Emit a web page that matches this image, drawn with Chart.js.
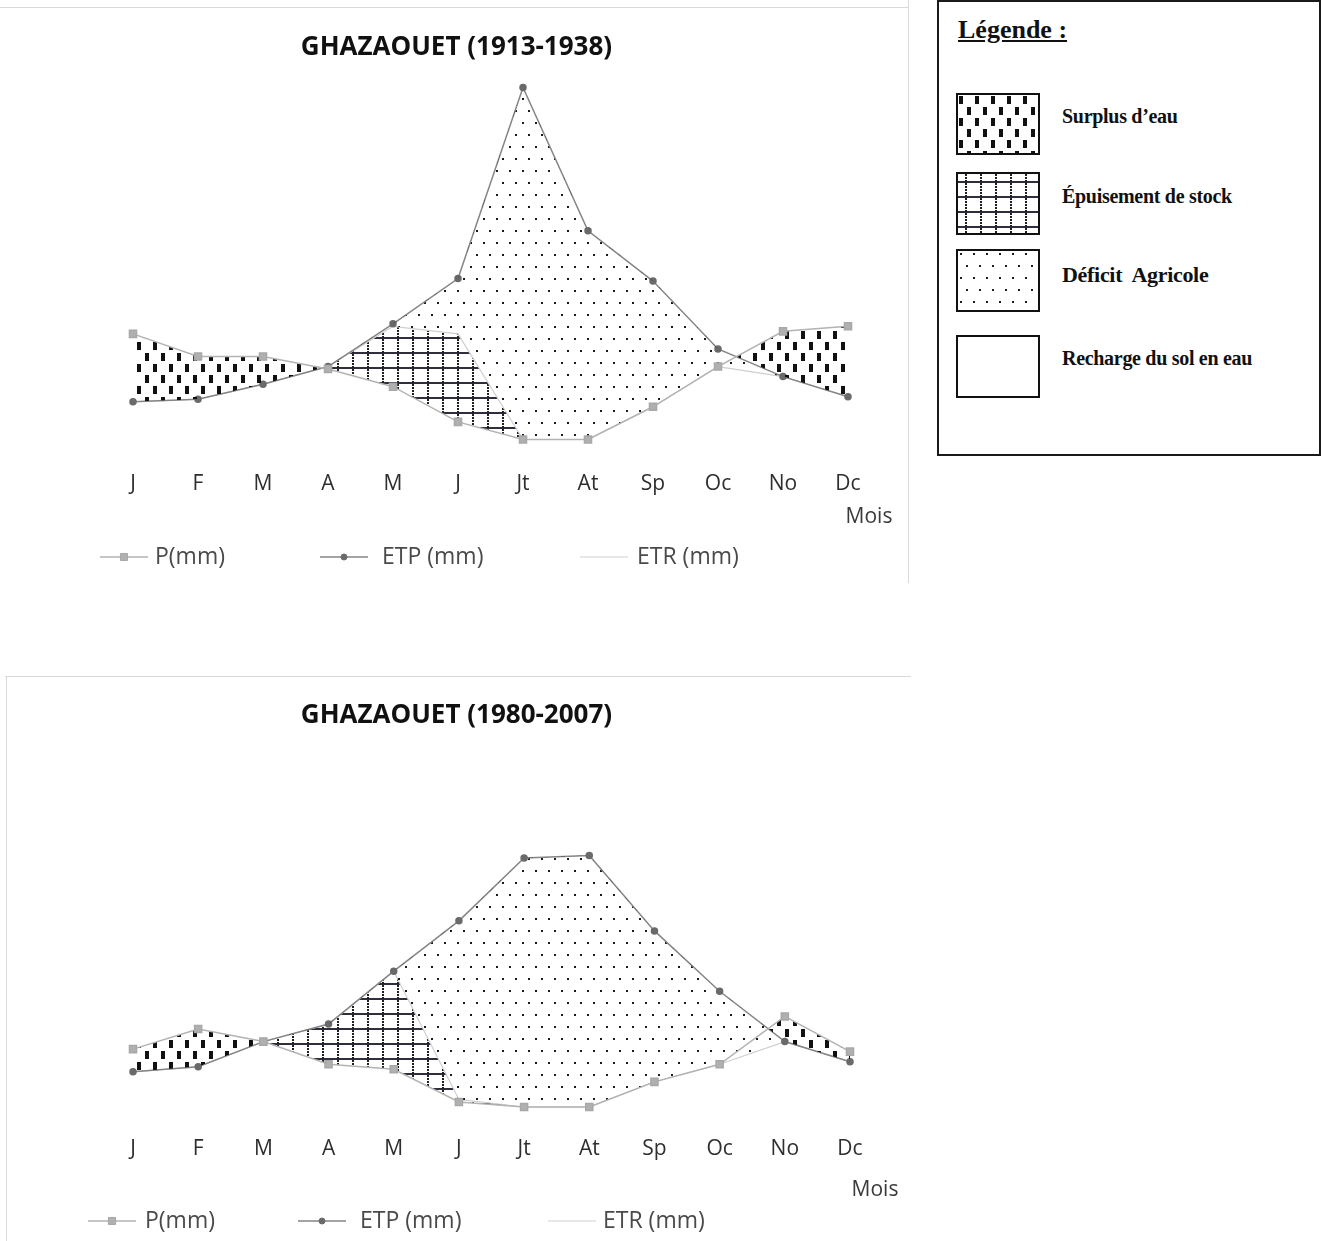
<!DOCTYPE html>
<html>
<head>
<meta charset="utf-8">
<script src="https://cdn.jsdelivr.net/npm/chart.js@4.4.1/dist/chart.umd.min.js"></script>
<style>
  body { margin: 0; background: #fff; width: 1321px; height: 1241px; position: relative; overflow: hidden; }
  canvas.chart { position: absolute; left: 0; }
  #c1 { top: 0; }
  #c2 { top: 676px; }
  .rule { position: absolute; background: #d9d9d9; }
  #legendBox { position: absolute; left: 937px; top: 0; width: 384px; height: 456px; box-sizing: border-box;
    border: 2px solid #1a1a1a; font-family: "Liberation Serif", "Times New Roman", serif; color: #111; }
  #legendBox .head { position: absolute; left: 19px; top: 12px; font-size: 26px; font-weight: bold; text-decoration: underline; line-height: 32px; }
  #legendBox canvas { position: absolute; left: 17px; border: 2px solid #111; }
  #legendBox .txt { position: absolute; left: 123px; font-size: 20px; font-weight: bold; line-height: 26px; letter-spacing: -0.3px; }
</style>
</head>
<body>
<div class="rule" style="left:0; top:7px; width:908px; height:1px;"></div>
<div class="rule" style="left:908px; top:0; width:1px; height:583px;"></div>
<div class="rule" style="left:5px; top:676px; width:906px; height:1px;"></div>
<div class="rule" style="left:6px; top:676px; width:1px; height:565px;"></div>

<canvas id="c1" class="chart" width="910" height="585"></canvas>
<canvas id="c2" class="chart" width="910" height="565"></canvas>

<div id="legendBox">
  <div class="head">Légende :</div>
  <canvas id="sw1" width="80" height="58" style="top:91px"></canvas>
  <div class="txt" style="top:101px">Surplus d’eau</div>
  <canvas id="sw2" width="80" height="59" style="top:170px"></canvas>
  <div class="txt" style="top:181px">Épuisement de stock</div>
  <canvas id="sw3" width="80" height="59" style="top:247px"></canvas>
  <div class="txt" style="top:260px; font-size:22px">Déficit&nbsp; Agricole</div>
  <canvas id="sw4" width="80" height="59" style="top:333px"></canvas>
  <div class="txt" style="top:343px">Recharge du sol en eau</div>
</div>

<script>
const months = ['J', 'F', 'M', 'A', 'M', 'J', 'Jt', 'At', 'Sp', 'Oc', 'No', 'Dc'];

// Ghazaouet 1913-1938 (mm)
const p1 = [43, 34, 34, 29, 22, 8, 1, 1, 14, 30, 44, 46];
const etp1 = [16, 17, 23, 30, 47, 65, 141, 84, 64, 37, 26, 18];
const etr1 = [16, 17, 23, 30, 46, 43, 1, 1, 14, 30, 26, 18];

// Ghazaouet 1980-2007 (mm)
const p2 = [23, 31, 26, 17, 15, 2, 0, 0, 10, 17, 36, 22];
const etp2 = [14, 16, 26, 33, 54, 74, 99, 100, 70, 46, 26, 18];
const etr2 = [14, 16, 26, 33, 54, 3, 0, 0, 10, 17, 26, 18];

function makePattern(w, h, draw) {
    const c = document.createElement('canvas');
    c.width = w;
    c.height = h;
    const g = c.getContext('2d');
    draw(g);
    return g.createPattern(c, 'repeat');
}

// hatch fills, same as the legend box
const surplusFill = makePattern(16, 22, g => {
    g.fillStyle = '#111';
    g.fillRect(1, 1, 4, 8);
    g.fillRect(9, 12, 4, 8);
});
const stockFill = makePattern(15, 15, g => {
    g.fillStyle = '#2e2e3c';
    g.fillRect(0, 7, 15, 2);
    g.fillStyle = '#1e1e1e';
    for (let y = 0; y < 15; y += 3) g.fillRect(7, y, 2, 2);
});
const deficitFill = makePattern(13, 24, g => {
    g.fillStyle = '#1a1a1a';
    g.fillRect(2, 2, 2, 2);
    g.fillRect(8, 14, 2, 2);
});

[['sw1', surplusFill], ['sw2', stockFill], ['sw3', deficitFill], ['sw4', null]].forEach(([id, fill]) => {
    const c = document.getElementById(id);
    const g = c.getContext('2d');
    g.fillStyle = '#fff';
    g.fillRect(0, 0, c.width, c.height);
    if (fill) {
        g.fillStyle = fill;
        g.fillRect(0, 0, c.width, c.height);
    }
});

// legend line + marker like the spreadsheet legend, plus the "Mois" note
const lineLegend = {
    id: 'lineLegend',
    afterDraw(chart, args, opts) {
        const ctx = chart.ctx;
        ctx.save();
        ctx.font = '23px "Open Sans"';
        ctx.textBaseline = 'middle';
        chart.data.datasets.forEach((ds, i) => {
            const x = opts.x[i], y = opts.y;
            ctx.strokeStyle = ds.borderColor;
            ctx.lineWidth = ds.borderWidth;
            ctx.beginPath();
            ctx.moveTo(x, y);
            ctx.lineTo(x + 48, y);
            ctx.stroke();
            if (ds.pointRadius > 0) {
                ctx.fillStyle = ds.pointBackgroundColor;
                ctx.strokeStyle = ds.pointBorderColor;
                ctx.lineWidth = 1;
                Chart.helpers.drawPoint(ctx, { pointStyle: ds.pointStyle, radius: ds.pointRadius, borderWidth: 1, rotation: 0 }, x + 24, y);
            }
            ctx.fillStyle = '#4a4a4a';
            ctx.textAlign = 'left';
            ctx.fillText(ds.label, x + opts.textDx[i], y);
        });
        ctx.fillStyle = '#3a3a3a';
        ctx.textAlign = 'center';
        ctx.font = '21px "Open Sans"';
        ctx.fillText('Mois', chart.chartArea.right + opts.moisDx, opts.moisY);
        ctx.restore();
    }
};

function makeChart(id, title, p, etp, etr, cfg) {
    const ctx = document.getElementById(id).getContext('2d');
    return new Chart(ctx, {
        type: 'line',
        data: {
            labels: months,
            datasets: [
                {
                    label: 'P(mm)',
                    data: p,
                    clip: false,
                    borderColor: '#b3b3b3',
                    borderWidth: 1.5,
                    pointStyle: 'rect',
                    pointRadius: 5,
                    pointBackgroundColor: '#b0b0b0',
                    pointBorderColor: '#a8a8a8',
                    fill: { target: 1, above: surplusFill, below: 'transparent' }
                },
                {
                    label: 'ETP (mm)',
                    data: etp,
                    clip: false,
                    borderColor: '#858585',
                    borderWidth: 1.5,
                    pointStyle: 'circle',
                    pointRadius: 3,
                    pointBackgroundColor: '#6a6a6a',
                    pointBorderColor: '#6a6a6a',
                    fill: { target: 2, above: deficitFill, below: 'transparent' }
                },
                {
                    label: 'ETR (mm)',
                    data: etr,
                    clip: false,
                    borderColor: '#cfcfcf',
                    borderWidth: 1.2,
                    pointRadius: 0,
                    fill: { target: 0, above: stockFill, below: 'transparent' }
                }
            ]
        },
        options: {
            responsive: false,
            animation: false,
            devicePixelRatio: 1,
            layout: { padding: { left: 3, right: 0, top: 10, bottom: cfg.padBottom } },
            plugins: {
                legend: { display: false },
                tooltip: { enabled: false },
                title: {
                    display: true,
                    text: title,
                    color: '#111',
                    font: { family: 'Open Sans', size: 26, weight: 'bold' },
                    padding: { top: cfg.titleTop, bottom: cfg.titleBottom }
                },
                lineLegend: { x: cfg.legendX, textDx: cfg.textDx, y: cfg.legendY, moisDx: cfg.moisDx, moisY: cfg.moisY }
            },
            scales: {
                x: {
                    grid: { display: false, drawTicks: false },
                    border: { display: false },
                    ticks: { color: '#2e2e2e', padding: 29, font: { family: 'Open Sans', size: 21 }, maxRotation: 0, autoSkip: false }
                },
                y: {
                    min: 0,
                    max: cfg.yMax,
                    grid: { display: false },
                    border: { display: false },
                    ticks: { display: false },
                    afterFit: s => { s.width = 130; }
                },
                y2: {
                    position: 'right',
                    grid: { display: false },
                    border: { display: false },
                    ticks: { display: false },
                    afterFit: s => { s.width = cfg.rightWidth; }
                }
            }
        },
        plugins: [lineLegend]
    });
}

makeChart('c1', 'GHAZAOUET (1913-1938)', p1, etp1, etr1, {
    padBottom: 59.8, titleTop: 22, titleBottom: 1.6, yMax: 150, rightWidth: 62,
    legendX: [100, 320, 580], textDx: [55, 62, 57], legendY: 557, moisDx: 21, moisY: 517
});
makeChart('c2', 'GHAZAOUET (1980-2007)', p2, etp2, etr2, {
    padBottom: 50.8, titleTop: 13.8, titleBottom: 23.8, yMax: 140, rightWidth: 60,
    legendX: [88, 298, 548], textDx: [57, 62, 55], legendY: 545, moisDx: 25, moisY: 514
});
</script>
</body>
</html>
